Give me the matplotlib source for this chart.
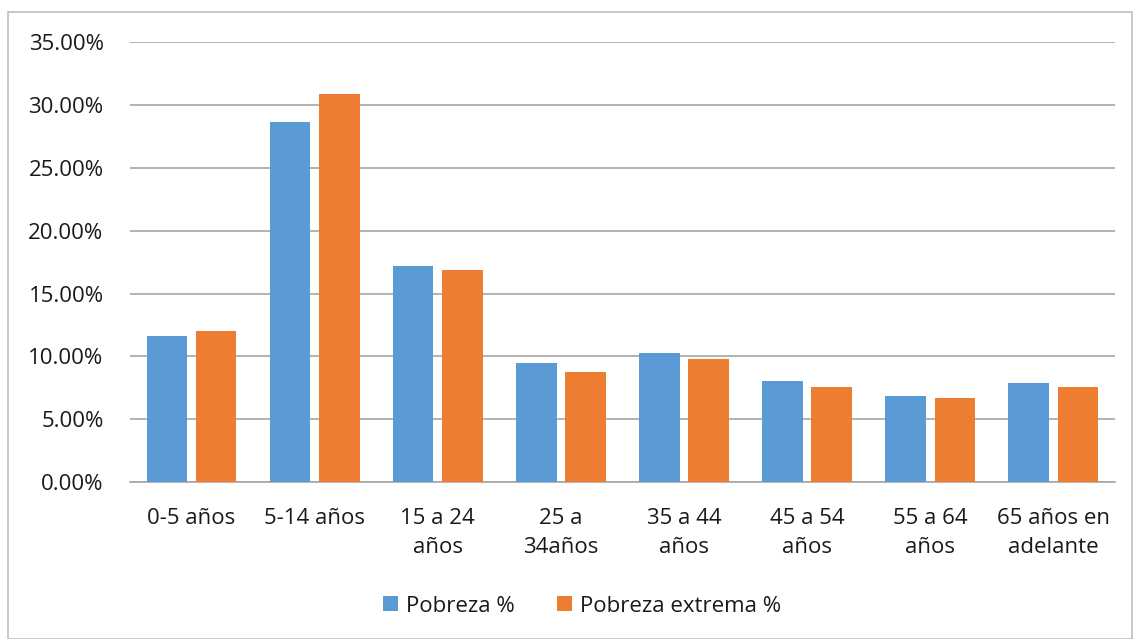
import matplotlib
matplotlib.use("Agg")
import matplotlib.pyplot as plt
from matplotlib.patches import Rectangle
import numpy as np

categories = ["0-5 años", "5-14 años", "15 a 24\naños", "25 a\n34años", "35 a 44\naños",
              "45 a 54\naños", "55 a 64\naños", "65 años en\nadelante"]
pobreza = [11.65, 28.63, 17.2, 9.47, 10.29, 8.01, 6.82, 7.9]
pobreza_extrema = [12.04, 30.87, 16.85, 8.78, 9.76, 7.53, 6.71, 7.53]
yticks = [0, 5, 10, 15, 20, 25, 30, 35]

plt.rcParams['font.family'] = ['Open Sans', 'DejaVu Sans']
fig = plt.figure(figsize=(11.33, 6.39), dpi=100)
ax = fig.add_axes([0.1147, 0.2457, 0.8693, 0.6883])

x = np.arange(len(categories))
w = 0.33
ax.bar(x - 0.2, pobreza, w, color="#5b9bd5", label="Pobreza %", zorder=3)
ax.bar(x + 0.2, pobreza_extrema, w, color="#ed7d31", label="Pobreza extrema %", zorder=3)

ax.set_xlim(-0.5, len(categories) - 0.5)
ax.set_ylim(0, 35)
ax.set_yticks(yticks)
ax.set_yticklabels([f"{v:.2f}%" for v in yticks])
ax.set_xticks(x)
ax.set_xticklabels(categories, linespacing=1.5)
ax.tick_params(axis='both', length=0, labelsize=16, colors="#1a1a1a")
ax.tick_params(axis='y', pad=19)
ax.tick_params(axis='x', pad=19)
ax.yaxis.grid(True, color="#a6a6a6", linewidth=1.2, zorder=0)
for s in ["top", "right", "left"]:
    ax.spines[s].set_visible(False)
ax.spines["bottom"].set_color("#a6a6a6")
ax.spines["bottom"].set_linewidth(1.2)

leg = fig.legend(loc="center", bbox_to_anchor=(582/1133, 1 - 606/639), ncol=2, frameon=False,
                 fontsize=16, handlelength=0.67, handleheight=0.67, columnspacing=1.9,
                 handletextpad=0.35)
for t in leg.get_texts():
    t.set_color("#1a1a1a")

fig.patches.append(Rectangle((8/1133, 0), 1 - 8/1133 - 0.001, 1 - 12/639, transform=fig.transFigure,
                             fill=False, edgecolor="#bfbfbf", linewidth=1.2))

fig.savefig("out.png", dpi=100, facecolor="white")
